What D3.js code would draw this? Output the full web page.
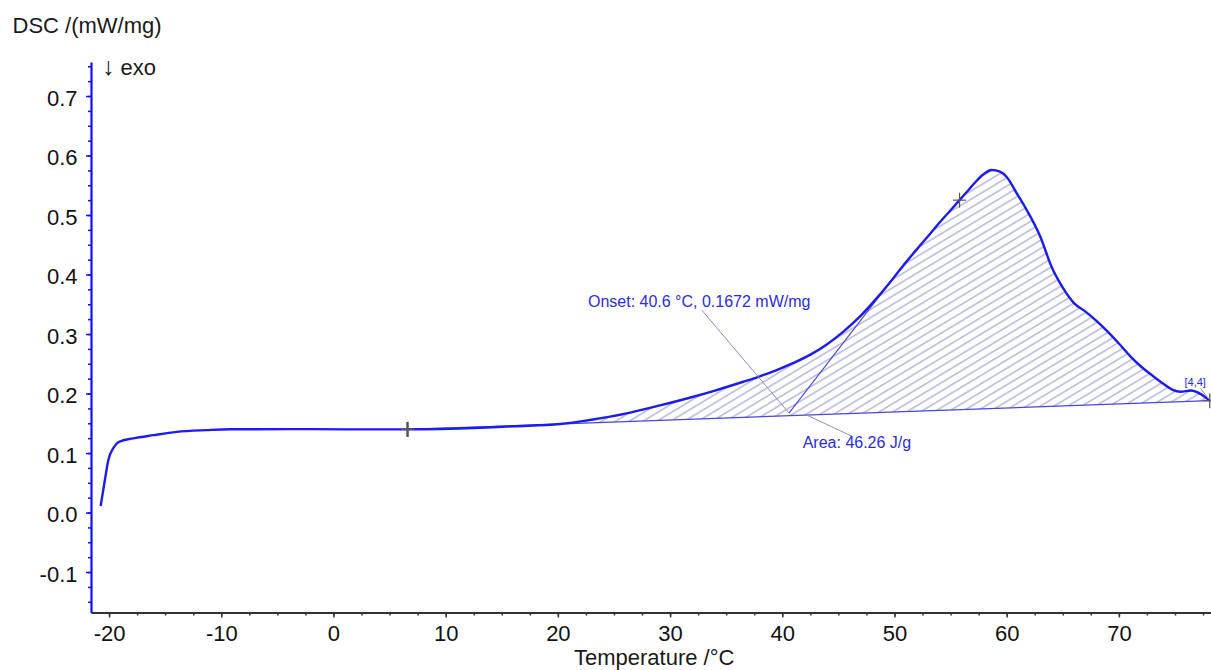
<!DOCTYPE html>
<html><head><meta charset="utf-8">
<script src="https://cdn.jsdelivr.net/npm/d3@7"></script>
<style>
body{margin:0;background:#fff;}
svg{display:block;font-family:"Liberation Sans",Arial,Helvetica,sans-serif;}
</style>
</head><body>
<svg id="chart" width="1211" height="670"></svg>
<script>
// ---- data ----
const temperature = [-20.75,-20.37,-20.07,-19.63,-19.09,-17.84,-16.06,-13.97,-11.3,-9.22,-3.88,1.18,6.52,13.06,16.0,20.19,23.0,26.13,29.1,32.07,34.0,36.52,38.0,39.5,41.0,42.47,44.0,45.5,47.0,48.5,49.86,51.0,52.2,53.2,54.0,55.0,55.8,56.5,57.2,57.9,58.66,59.4,60.0,60.9,61.8,63.0,64.0,65.0,66.0,67.0,68.0,69.0,70.0,71.0,72.0,73.0,74.0,74.8,75.5,76.4,77.3,78.1];
const dsc = [0.011,0.055,0.088,0.108,0.119,0.1247,0.130,0.1355,0.1385,0.1400,0.1402,0.1398,0.1397,0.1425,0.1450,0.1487,0.1560,0.1667,0.1800,0.1946,0.2050,0.2198,0.2290,0.2395,0.2515,0.2650,0.2830,0.3050,0.3310,0.3620,0.3930,0.4200,0.4470,0.4690,0.4870,0.5080,0.5250,0.5400,0.5550,0.5680,0.5756,0.5730,0.5640,0.5365,0.5080,0.4635,0.4130,0.3780,0.3520,0.3380,0.3220,0.3040,0.2840,0.2630,0.2450,0.2300,0.2160,0.2060,0.2030,0.2050,0.1990,0.1880];
const xTickValues = [-20,-10,0,10,20,30,40,50,60,70];
const yTickValues = [-0.1,0.0,0.1,0.2,0.3,0.4,0.5,0.6,0.7];
const xDomain = [-21.61, 78.21];
const yDomain = [-0.168, 0.757];
const baselineT = [6.6, 78.1];
const baselineV = [0.1397, 0.188];
const onsetPoint = [40.6, 0.1672];
const tangentEnd = [49.86, 0.393];
const markerT = [6.6, 55.8, 78.1];
const markerV = [0.1397, 0.525, 0.188];
const onsetText = "Onset: 40.6 °C, 0.1672 mW/mg";
const areaText = "Area: 46.26 J/g";
const peakTag = "[4,4]";
// annotation anchors (data units)
const onsetLabelAt = [22.68, 0.3454];
const onsetLeader = [[32.82, 0.3403], onsetPoint];
const areaLabelAt = [41.82, 0.1084];
const areaLeader = [[42.2, 0.1636], [46.19, 0.1284]];
const tagLabelAt = [75.85, 0.2126];
const tagLeader = [[77.3, 0.2085], [78.0, 0.191]];

// ---- scales ----
const svg = d3.select("#chart");
const x = d3.scaleLinear().domain(xDomain).range([91, 1211]);
const y = d3.scaleLinear().domain(yDomain).range([612.5, 62.1]);
const pts = temperature.map((t,i)=>({t, v: dsc[i]}));
const baseAt = t => baselineV[0] + (t-baselineT[0])*(baselineV[1]-baselineV[0])/(baselineT[1]-baselineT[0]);

// hatch pattern
const defs = svg.append("defs");
const pat = defs.append("pattern").attr("id","hatch").attr("patternUnits","userSpaceOnUse")
  .attr("width",20).attr("height",7.1).attr("patternTransform","rotate(-31)");
pat.append("line").attr("x1",0).attr("x2",20).attr("y1",3.5).attr("y2",3.5)
  .attr("stroke","#9292cc").attr("stroke-width",1);

// hatched area
const areaPts = pts.filter(p => p.t >= baselineT[0]);
areaPts.unshift({t: baselineT[0], v: baselineV[0]});
svg.append("path").datum(areaPts)
  .attr("d", d3.area().x(d=>x(d.t)).y0(d=>y(baseAt(d.t))).y1(d=>y(d.v)).curve(d3.curveMonotoneX))
  .attr("fill","url(#hatch)").attr("stroke","none");

// baseline
svg.append("line").attr("x1",x(baselineT[0])).attr("y1",y(baselineV[0]))
  .attr("x2",x(baselineT[1])).attr("y2",y(baselineV[1]))
  .attr("stroke","#4646e2").attr("stroke-width",1.2);
// tangent
svg.append("line").attr("x1",x(onsetPoint[0])).attr("y1",y(onsetPoint[1]))
  .attr("x2",x(tangentEnd[0])).attr("y2",y(tangentEnd[1]))
  .attr("stroke","#4646e2").attr("stroke-width",1.1);

// curve
svg.append("path").datum(pts)
  .attr("d", d3.line().x(d=>x(d.t)).y(d=>y(d.v)).curve(d3.curveMonotoneX))
  .attr("fill","none").attr("stroke","#1b1bf2").attr("stroke-width",2.4);

// leaders
const leader = (a,b,c) => svg.append("line").attr("x1",x(a[0])).attr("y1",y(a[1]))
  .attr("x2",x(b[0])).attr("y2",y(b[1])).attr("stroke",c).attr("stroke-width",1);
leader(onsetLeader[0], onsetLeader[1], "#8c8cc8");
leader(areaLeader[0], areaLeader[1], "#8c8cc8");
leader(tagLeader[0], tagLeader[1], "#8c8cc8");

// markers
markerT.forEach((t,i)=>{
  const cx = x(t), cy = y(markerV[i]);
  const big = i===0;
  svg.append("line").attr("x1",cx).attr("x2",cx).attr("y1",cy-7.5).attr("y2",cy+7.5)
    .attr("stroke","#555").attr("stroke-width", big?2.5:1.2);
  svg.append("line").attr("x1",cx-6.5).attr("x2",cx+6.5).attr("y1",cy).attr("y2",cy)
    .attr("stroke","#555").attr("stroke-width", 1.2);
});

// annotation labels
svg.append("text").attr("x",x(onsetLabelAt[0])).attr("y",y(onsetLabelAt[1]))
  .attr("font-size",16).attr("fill","#2b2be8").text(onsetText);
svg.append("text").attr("x",x(areaLabelAt[0])).attr("y",y(areaLabelAt[1]))
  .attr("font-size",16).attr("fill","#2b2be8").text(areaText);
svg.append("text").attr("x",x(tagLabelAt[0])).attr("y",y(tagLabelAt[1]))
  .attr("font-size",11).attr("fill","#2b2be8").text(peakTag);

// ---- axes ----
const xMinor = d3.range(-20, 78.3, 2.5);
const gxm = svg.append("g").attr("transform","translate(0,612.5)")
  .call(d3.axisBottom(x).tickValues(xMinor).tickSize(3).tickSizeOuter(0).tickFormat(""));
gxm.select(".domain").remove();
gxm.selectAll("line").attr("stroke","#333").attr("stroke-width",1.5);
const gx = svg.append("g").attr("transform","translate(0,612.5)")
  .call(d3.axisBottom(x).tickValues(xTickValues).tickSize(5).tickSizeOuter(0).tickPadding(7.5).tickFormat(d=>String(d)));
gx.select(".domain").attr("stroke","#333").attr("stroke-width",2);
gx.selectAll("line").attr("stroke","#333").attr("stroke-width",1.5);
gx.selectAll("text").attr("font-size",22).attr("fill","#111").attr("font-family","Liberation Sans, Arial, sans-serif");

const yMinor = d3.range(-0.15, 0.76, 0.025);
const gym = svg.append("g").attr("transform","translate(91,0)")
  .call(d3.axisLeft(y).tickValues(yMinor).tickSize(3).tickSizeOuter(0).tickFormat(""));
gym.select(".domain").remove();
gym.selectAll("line").attr("stroke","#1010ff").attr("stroke-width",1.5);
const gy = svg.append("g").attr("transform","translate(91,0)")
  .call(d3.axisLeft(y).tickValues(yTickValues).tickSize(5).tickSizeOuter(0).tickPadding(8.5).tickFormat(d=>d.toFixed(1)));
gy.select(".domain").attr("stroke","#1010ff").attr("stroke-width",2.2);
gy.selectAll("line").attr("stroke","#1010ff").attr("stroke-width",1.5);
gy.selectAll("text").attr("font-size",22).attr("fill","#111").attr("dy","0.42em").attr("font-family","Liberation Sans, Arial, sans-serif");

// titles
svg.append("text").attr("x",12.5).attr("y",33).attr("font-size",22).attr("fill","#1a1a1a").text("DSC /(mW/mg)");
const exo = svg.append("text").attr("x",102).attr("y",75).attr("font-size",22).attr("fill","#1a1a1a");
exo.append("tspan").attr("font-size",25).text("↓");
exo.append("tspan").text(" exo");
svg.append("text").attr("x",574).attr("y",665).attr("font-size",22).attr("fill","#1a1a1a").text("Temperature /°C");
</script>
</body></html>
